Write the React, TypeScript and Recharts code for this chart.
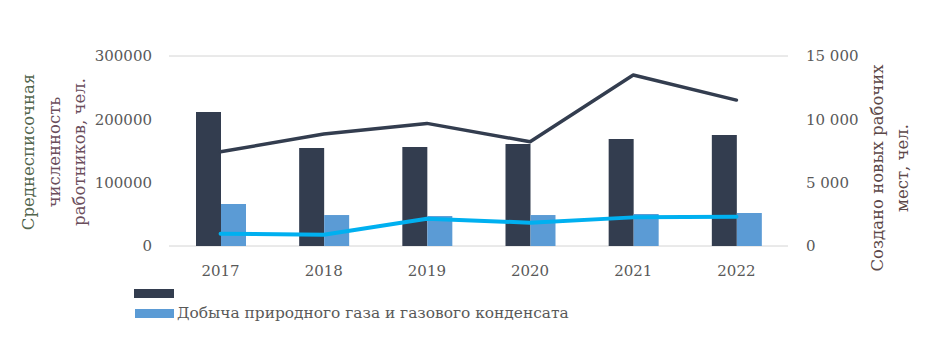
import { ComposedChart, Bar, Line, XAxis, YAxis, CartesianGrid, Legend } from 'recharts';

const years = ['2017', '2018', '2019', '2020', '2021', '2022'];
const employees = [211400, 154600, 156200, 160900, 168800, 175100];
const gasProduction = [66200, 48900, 47300, 48900, 50500, 52100];
const newJobsTotal = [7440, 8840, 9680, 8230, 13500, 11520];
const newJobsGas = [970, 890, 2150, 1840, 2260, 2310];

const leftTicks = [0, 100000, 200000, 300000];
const rightTicks = [0, 5000, 10000, 15000];

const gasLabel = 'Добыча природного газа и газового конденсата';

const DARK = '#333d4f';
const LIGHT = '#5b9bd5';
const CYAN = '#00b0f0';
const TEXT = '#595959';
const FONT = '"DejaVu Serif", serif';

const data = years.map((year, i) => ({
  year,
  employees: employees[i],
  gas: gasProduction[i],
  jobsTotal: newJobsTotal[i],
  jobsGas: newJobsGas[i],
}));

const fmtSpace = (v: number) => v.toString().replace(/\B(?=(\d{3})+(?!\d))/g, ' ');

function LeftTitle() {
  const cy = 152;
  return (
    <g fontFamily={FONT} fontSize={16.5}>
      <text x={28} y={cy} transform={`rotate(-90 28 ${cy})`} textAnchor="middle" dominantBaseline="central" fill="#52654d">
        Среднесписочная
      </text>
      <text x={54} y={cy} transform={`rotate(-90 54 ${cy})`} textAnchor="middle" dominantBaseline="central" fill="#6b4e5c">
        численность
      </text>
      <text x={79} y={cy} transform={`rotate(-90 79 ${cy})`} textAnchor="middle" dominantBaseline="central" fill="#6b4e5c">
        работников, чел.
      </text>
    </g>
  );
}

function RightTitle() {
  const cy = 168;
  return (
    <g fontFamily={FONT} fontSize={16.5} fill="#5c4848">
      <text x={877} y={cy} transform={`rotate(-90 877 ${cy})`} textAnchor="middle" dominantBaseline="central">
        Создано новых рабочих
      </text>
      <text x={902} y={cy} transform={`rotate(-90 902 ${cy})`} textAnchor="middle" dominantBaseline="central">
        мест, чел.
      </text>
    </g>
  );
}

function LegendBox() {
  return (
    <div style={{ fontFamily: FONT, fontSize: 15.4, color: TEXT, lineHeight: '20px' }}>
      <div style={{ display: 'flex', alignItems: 'center', height: 20 }}>
        <span style={{ width: 40, height: 9, background: DARK, display: 'inline-block' }} />
      </div>
      <div style={{ display: 'flex', alignItems: 'center', height: 20 }}>
        <span style={{ width: 39, height: 9, background: LIGHT, display: 'inline-block', marginLeft: 1, marginRight: 3 }} />
        <span>{gasLabel}</span>
      </div>
    </div>
  );
}

export default function App() {
  return (
    <div style={{ position: 'absolute', left: 0, top: 0, width: 928, height: 356, background: '#fff' }}>
      <ComposedChart
        width={928}
        height={356}
        data={data}
        margin={{ top: 56, right: 0, bottom: 80, left: 0 }}
        barGap={0}
        style={{ fontFamily: FONT }}
      >
        <CartesianGrid vertical={false} stroke="#d4d4d4" strokeWidth={1} />
        <XAxis
          dataKey="year"
          axisLine={false}
          tickLine={false}
          tickSize={0}
          tickMargin={19}
          height={30}
          tick={{ fill: TEXT, fontSize: 15, fontFamily: FONT }}
        />
        <YAxis
          yAxisId="left"
          orientation="left"
          width={169}
          domain={[0, 300000]}
          ticks={leftTicks}
          axisLine={false}
          tickLine={false}
          tickSize={0}
          tickMargin={17}
          tick={{ fill: TEXT, fontSize: 15, fontFamily: FONT }}
          label={{ content: () => <LeftTitle /> }}
        />
        <YAxis
          yAxisId="right"
          orientation="right"
          width={140}
          domain={[0, 15000]}
          ticks={rightTicks}
          axisLine={false}
          tickLine={false}
          tickSize={0}
          tickMargin={18}
          tickFormatter={fmtSpace}
          tick={{ fill: TEXT, fontSize: 15, fontFamily: FONT }}
          label={{ content: () => <RightTitle /> }}
        />
        <Legend
          layout="vertical"
          align="center"
          verticalAlign="middle"
          wrapperStyle={{ left: 134, top: 283, width: 600 }}
          content={() => <LegendBox />}
        />
        <Bar yAxisId="left" dataKey="employees" name="" fill={DARK} barSize={25} isAnimationActive={false} />
        <Bar yAxisId="left" dataKey="gas" name={gasLabel} fill={LIGHT} barSize={25} isAnimationActive={false} />
        <Line
          yAxisId="right"
          dataKey="jobsTotal"
          stroke={DARK}
          strokeWidth={3.5}
          strokeLinecap="round"
          strokeLinejoin="round"
          dot={false}
          activeDot={false}
          legendType="none"
          isAnimationActive={false}
        />
        <Line
          yAxisId="right"
          dataKey="jobsGas"
          stroke={CYAN}
          strokeWidth={4}
          strokeLinecap="round"
          strokeLinejoin="round"
          dot={false}
          activeDot={false}
          legendType="none"
          isAnimationActive={false}
        />
      </ComposedChart>
    </div>
  );
}
